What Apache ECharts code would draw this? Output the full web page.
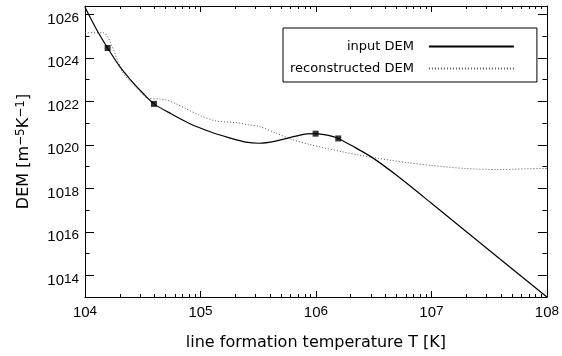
<!DOCTYPE html>
<html><head><meta charset="utf-8">
<script src="https://cdn.jsdelivr.net/npm/echarts@6/dist/echarts.min.js"></script>
<style>html,body{margin:0;padding:0;background:#fff}#c{width:562px;height:356px}</style>
</head><body><div id="c"></div>
<script>
// values, as log10 of temperature [K] and log10 of DEM [m^-5 K^-1]
const inputLogT   = [4.0, 4.1, 4.196, 4.3, 4.4, 4.5, 4.597, 4.72, 4.905, 5.078, 5.25, 5.394, 5.509, 5.652, 5.796, 5.91, 5.997, 6.097, 6.193, 6.313, 6.485, 6.687, 7.0, 7.5, 8.0];
const inputLogDEM = [26.32, 25.30, 24.45, 23.6, 22.95, 22.38, 21.88, 21.5, 20.98, 20.61, 20.32, 20.12, 20.07, 20.17, 20.36, 20.49, 20.51, 20.44, 20.29, 19.95, 19.42, 18.64, 17.31, 15.15, 13.0];
const reconLogT   = [4.0, 4.158, 4.2, 4.244, 4.287, 4.33, 4.388, 4.474, 4.53, 4.647, 4.70, 4.79, 4.876, 4.991, 5.135, 5.308, 5.422, 5.509, 5.652, 5.796, 5.94, 6.083, 6.226, 6.37, 6.515, 6.658, 6.80, 7.0, 7.29, 7.578, 7.98, 8.0];
const reconLogDEM = [25.15, 25.15, 24.93, 24.40, 23.81, 23.29, 22.92, 22.47, 22.17, 22.10, 22.07, 21.88, 21.65, 21.36, 21.09, 21.02, 20.91, 20.84, 20.54, 20.24, 20.02, 19.84, 19.68, 19.53, 19.40, 19.28, 19.17, 19.05, 18.91, 18.86, 18.91, 18.91];
const markerLogT   = [4.196, 4.597, 5.997, 6.193];
const markerLogDEM = [24.45, 21.88, 20.51, 20.29];
const xTickExps  = [4, 5, 6, 7, 8];
const yTickExps  = [14, 16, 18, 20, 22, 24, 26];
const yMinorExps = [13, 15, 17, 19, 21, 23, 25];
const seriesNames = ['input DEM', 'reconstructed DEM'];
const xTitle = 'line formation temperature T [K]';

const p10 = v => Math.pow(10, v);
const pairs = (a, b) => a.map((v, i) => [p10(v), p10(b[i])]);
const xMajor = xTickExps.map(p10);
const xMinor = [];
for (let e = xTickExps[0]; e < xTickExps[xTickExps.length - 1]; e++) for (let k = 2; k <= 9; k++) xMinor.push(k * p10(e));
const yMajor = yTickExps.map(p10);
const yMinor = yMinorExps.map(p10);

const supRich = {
  b: {fontFamily: 'Liberation Sans', fontSize: 15, color: '#000', lineHeight: 16, verticalAlign: 'bottom'},
  s: {fontFamily: 'Liberation Sans', fontSize: 13.5, color: '#000', lineHeight: 14, verticalAlign: 'top', padding: [0, 0, 8, 0]}
};
const expFmt = v => '{b|10}{s|' + Math.round(Math.log10(v)) + '}';
const line = {show: true, lineStyle: {color: '#000', width: 1}};
const XMIN = 1e4, XMAX = 1e8, YMIN = 1e13, YMAX = 2.4e26;
const xBase = {type: 'log', min: XMIN, max: XMAX, splitLine: {show: false}, axisLabel: {show: false}, axisLine: {show: false}};
const yBase = {type: 'log', min: YMIN, max: YMAX, splitLine: {show: false}, axisLabel: {show: false}, axisLine: {show: false}};

const chart = echarts.init(document.getElementById('c'), null, {renderer: 'canvas'});
chart.setOption({
  animation: false,
  backgroundColor: '#fff',
  grid: {left: 85, right: 13, top: 6, bottom: 50, containLabel: false},
  xAxis: [
    Object.assign({}, xBase, {position: 'bottom', axisLine: line,
      axisTick: {show: true, inside: true, length: 6, lineStyle: {color: '#000'}, customValues: xMajor},
      axisLabel: {show: true, margin: 7, formatter: expFmt, rich: supRich, customValues: xMajor},
      name: xTitle, nameLocation: 'middle', nameGap: 38,
      nameTextStyle: {fontFamily: 'DejaVu Sans', fontSize: 16, color: '#000'}}),
    Object.assign({}, xBase, {position: 'bottom',
      axisTick: {show: true, inside: true, length: 3, lineStyle: {color: '#000'}, customValues: xMinor}}),
    Object.assign({}, xBase, {position: 'top', axisLine: line,
      axisTick: {show: true, inside: true, length: 6, lineStyle: {color: '#000'}, customValues: xMajor}}),
    Object.assign({}, xBase, {position: 'top',
      axisTick: {show: true, inside: true, length: 3, lineStyle: {color: '#000'}, customValues: xMinor}})
  ],
  yAxis: [
    Object.assign({}, yBase, {position: 'left', axisLine: line,
      axisTick: {show: true, inside: true, length: 9, lineStyle: {color: '#000'}, customValues: yMajor},
      axisLabel: {show: true, margin: 6, formatter: expFmt, rich: supRich, customValues: yMajor, padding: [10, 0, 0, 0]},
      name: '{b|DEM [m}{s|−5}{b|K}{s|−1}{b|]}', nameLocation: 'middle', nameGap: 53, nameRotate: 90,
      nameTextStyle: {rich: {
        b: {fontFamily: 'DejaVu Sans', fontSize: 16, color: '#000', lineHeight: 17, verticalAlign: 'bottom'},
        s: {fontFamily: 'DejaVu Sans', fontSize: 12, color: '#000', lineHeight: 13, verticalAlign: 'top', padding: [0, 0, 8, 0]}
      }}}),
    Object.assign({}, yBase, {position: 'left',
      axisTick: {show: true, inside: true, length: 4.5, lineStyle: {color: '#000'}, customValues: yMinor}}),
    Object.assign({}, yBase, {position: 'right', axisLine: line,
      axisTick: {show: true, inside: true, length: 9, lineStyle: {color: '#000'}, customValues: yMajor}}),
    Object.assign({}, yBase, {position: 'right',
      axisTick: {show: true, inside: true, length: 4.5, lineStyle: {color: '#000'}, customValues: yMinor}})
  ],
  legend: {
    data: seriesNames, orient: 'vertical', align: 'right',
    left: 283, top: 28, padding: [12, 22, 7, 7], itemGap: 9,
    itemWidth: 85, itemHeight: 14,
    itemStyle: {opacity: 0},
    borderColor: '#000', borderWidth: 1, borderRadius: 0, backgroundColor: '#fff',
    textStyle: {fontFamily: 'DejaVu Sans', fontSize: 13, color: '#000', padding: [0, 10, 0, 0]},
    selectedMode: false
  },
  series: [
    {name: seriesNames[0], type: 'line', data: pairs(inputLogT, inputLogDEM), symbol: 'none', smooth: 0.3,
     lineStyle: {color: '#000', width: 1.2}, itemStyle: {color: '#000'}, z: 3},
    {name: seriesNames[1], type: 'line', data: pairs(reconLogT, reconLogDEM), symbol: 'none', smooth: 0.3,
     lineStyle: {color: '#555', width: 1, type: [1, 2]}, itemStyle: {color: '#555'}, z: 2},
    {name: 'markers', type: 'scatter', data: pairs(markerLogT, markerLogDEM), symbol: 'rect', symbolSize: 6,
     itemStyle: {color: '#000'}, z: 4}
  ]
});
</script></body></html>
